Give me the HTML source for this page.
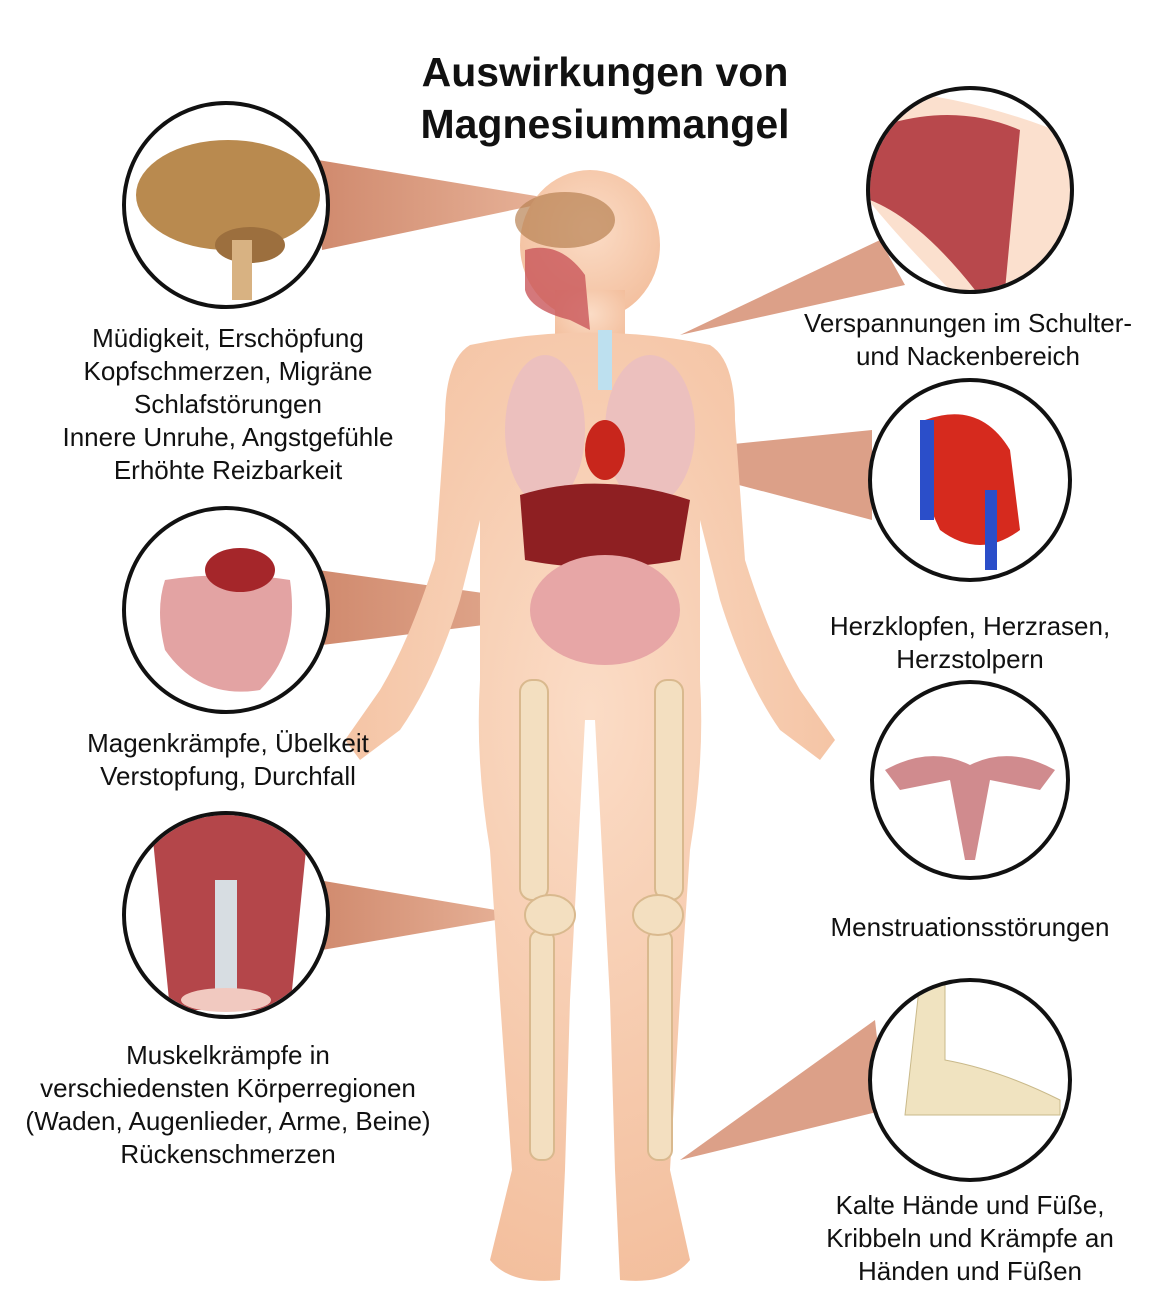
<!DOCTYPE html>
<html><head><meta charset="utf-8"><style>
html,body{margin:0;padding:0;background:#fff}
body{width:1171px;height:1301px;position:relative;overflow:hidden;font-family:"Liberation Sans",sans-serif}
.t{position:absolute;text-align:center;font-size:26px;line-height:33px;color:#111;transform:translateX(-50%);white-space:nowrap}
h1{position:absolute;left:605px;top:46px;transform:translateX(-50%);margin:0;font-size:41px;line-height:52px;text-align:center;font-weight:bold;white-space:nowrap;color:#111}
</style></head><body>
<svg width="1171" height="1301" style="position:absolute;left:0;top:0">
<defs>
<linearGradient id="w" x1="0" x2="1"><stop offset="0" stop-color="#d08a6e"/><stop offset="1" stop-color="#e8b49a"/></linearGradient>
<radialGradient id="sk" cx="0.5" cy="0.4" r="0.7"><stop offset="0" stop-color="#fbdcc6"/><stop offset="1" stop-color="#f2bb98"/></radialGradient>
<clipPath id="c1"><circle cx="226" cy="205" r="100"/></clipPath>
<clipPath id="c2"><circle cx="226" cy="610" r="100"/></clipPath>
<clipPath id="c3"><circle cx="226" cy="915" r="100"/></clipPath>
<clipPath id="c4"><circle cx="970" cy="190" r="100"/></clipPath>
<clipPath id="c5"><circle cx="970" cy="480" r="98"/></clipPath>
<clipPath id="c7"><circle cx="970" cy="1080" r="98"/></clipPath>
</defs>
<!-- wedges -->
<polygon points="318,160 322,250 560,200" fill="url(#w)"/>
<polygon points="318,570 322,645 605,610" fill="url(#w)"/>
<polygon points="318,880 322,950 525,915" fill="url(#w)"/>
<polygon points="880,240 905,285 680,335" fill="#dca088"/>
<polygon points="872,430 872,520 625,455" fill="#dca088"/>
<polygon points="875,1020 885,1110 680,1160" fill="#dca088"/>
<!-- body -->
<g fill="url(#sk)">
<ellipse cx="590" cy="245" rx="70" ry="75"/>
<rect x="555" y="290" width="70" height="60"/>
<path d="M470,345 Q590,320 710,345 Q735,360 735,420 L745,560 Q770,640 800,690 L835,740 L820,760 L780,730 Q745,680 720,600 L700,520 L700,680 Q705,760 690,850 L680,1000 L670,1170 L690,1260 Q670,1285 620,1280 L615,1170 L610,1000 L595,720 L585,720 L570,1000 L565,1170 L560,1280 Q510,1285 490,1260 L512,1170 L500,1000 L490,850 Q475,760 480,680 L480,520 L460,600 Q435,680 400,730 L360,760 L345,740 L380,690 Q410,640 435,560 L445,420 Q445,360 470,345Z"/>
</g>
<!-- organs -->
<ellipse cx="545" cy="430" rx="40" ry="75" fill="#ecc0be"/>
<ellipse cx="650" cy="430" rx="45" ry="75" fill="#ecc0be"/>
<path d="M520,495 Q600,470 690,500 L680,560 Q600,575 525,560Z" fill="#8e1f22"/>
<ellipse cx="605" cy="450" rx="20" ry="30" fill="#c8261c"/>
<rect x="598" y="330" width="14" height="60" fill="#bde0ef"/>
<ellipse cx="605" cy="610" rx="75" ry="55" fill="#e7a6a6"/>
<ellipse cx="565" cy="220" rx="50" ry="28" fill="#b88252" opacity="0.7"/>
<path d="M525,250 Q560,240 585,275 L590,330 L570,320 Q530,310 525,290Z" fill="#c9565a" opacity="0.8"/>
<!-- leg bones -->
<g fill="#f3dfc0" stroke="#d9b98e" stroke-width="2">
<rect x="520" y="680" width="28" height="220" rx="12"/>
<rect x="655" y="680" width="28" height="220" rx="12"/>
<rect x="530" y="930" width="24" height="230" rx="10"/>
<rect x="648" y="930" width="24" height="230" rx="10"/>
<ellipse cx="550" cy="915" rx="25" ry="20"/>
<ellipse cx="658" cy="915" rx="25" ry="20"/>
</g>
<!-- circles bg -->
<g fill="#fff">
<circle cx="226" cy="205" r="102"/><circle cx="226" cy="610" r="102"/><circle cx="226" cy="915" r="102"/>
<circle cx="970" cy="190" r="102"/><circle cx="970" cy="480" r="100"/><circle cx="970" cy="780" r="98"/><circle cx="970" cy="1080" r="100"/>
</g>
<!-- circle contents -->
<g clip-path="url(#c1)">
<ellipse cx="228" cy="195" rx="92" ry="55" fill="#b98a4f"/>
<ellipse cx="250" cy="245" rx="35" ry="18" fill="#9c6f3e"/>
<rect x="232" y="240" width="20" height="60" fill="#d8b282"/>
</g>
<g clip-path="url(#c2)">
<path d="M165,580 Q230,570 290,580 Q300,650 260,690 Q200,700 165,650 Q155,610 165,580Z" fill="#e3a3a3"/>
<ellipse cx="240" cy="570" rx="35" ry="22" fill="#a5262a"/>
</g>
<g clip-path="url(#c3)">
<path d="M150,810 Q230,800 310,810 L290,1010 L170,1010Z" fill="#b4464a"/>
<rect x="215" y="880" width="22" height="110" fill="#d7dde2"/>
<ellipse cx="226" cy="1000" rx="45" ry="12" fill="#f1c9c0"/>
</g>
<g clip-path="url(#c4)">
<path d="M860,90 Q960,90 1080,140 L1080,300 L960,300 Q900,240 860,190Z" fill="#fbe0ce"/>
<path d="M870,130 Q950,100 1020,130 L1005,290 L975,290 Q920,220 870,200Z" fill="#b8484c"/>
</g>
<g clip-path="url(#c5)">
<path d="M925,420 Q980,400 1010,450 L1020,530 Q980,560 940,530 Q915,480 925,420Z" fill="#d62a1e"/>
<rect x="920" y="420" width="14" height="100" fill="#2b4ec9"/>
<rect x="985" y="490" width="12" height="80" fill="#2b4ec9"/>
</g>
<path d="M885,770 Q930,745 970,765 Q1010,745 1055,770 L1040,790 L990,780 L975,860 L965,860 L950,780 L900,790Z" fill="#d08b8e"/>
<g clip-path="url(#c7)">
<path d="M920,980 L945,980 L945,1060 Q1000,1070 1060,1100 L1060,1115 L905,1115 Z" fill="#f0e3c0" stroke="#c9b98a"/>
</g>
<g stroke="#111" stroke-width="4" fill="none">
<circle cx="226" cy="205" r="102"/>
<circle cx="226" cy="610" r="102"/>
<circle cx="226" cy="915" r="102"/>
<circle cx="970" cy="190" r="102"/>
<circle cx="970" cy="480" r="100"/>
<circle cx="970" cy="780" r="98"/>
<circle cx="970" cy="1080" r="100"/>
</g>
</svg>
<h1>Auswirkungen von<br>Magnesiummangel</h1>
<div class="t" style="left:228px;top:322px">Müdigkeit, Erschöpfung<br>Kopfschmerzen, Migräne<br>Schlafstörungen<br>Innere Unruhe, Angstgefühle<br>Erhöhte Reizbarkeit</div>
<div class="t" style="left:228px;top:727px">Magenkrämpfe, Übelkeit<br>Verstopfung, Durchfall</div>
<div class="t" style="left:228px;top:1039px">Muskelkrämpfe in<br>verschiedensten Körperregionen<br>(Waden, Augenlieder, Arme, Beine)<br>Rückenschmerzen</div>
<div class="t" style="left:968px;top:307px">Verspannungen im Schulter-<br>und Nackenbereich</div>
<div class="t" style="left:970px;top:610px">Herzklopfen, Herzrasen,<br>Herzstolpern</div>
<div class="t" style="left:970px;top:911px">Menstruationsstörungen</div>
<div class="t" style="left:970px;top:1189px">Kalte Hände und Füße,<br>Kribbeln und Krämpfe an<br>Händen und Füßen</div>
</body></html>
